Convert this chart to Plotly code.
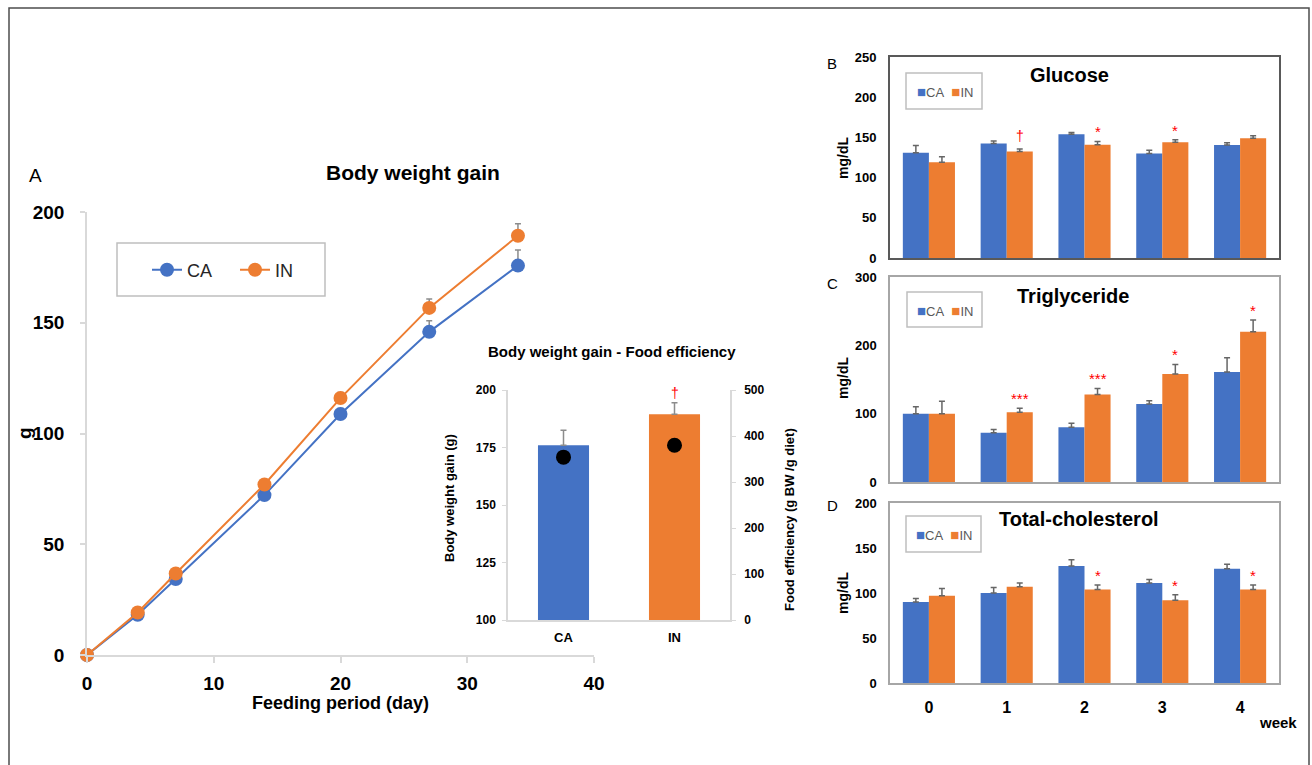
import plotly.graph_objects as go

W, H = 1312, 765


def fx(p):
    return p / W


def fy(p):
    return 1 - p / H


BLUE = "#4472c4"
ORANGE = "#ed7d31"
RED = "#ff0000"
FONT = "Arial, Liberation Sans, sans-serif"

# ---------------- data ----------------
# Panel A: body weight gain over feeding period
days = [0, 4, 7, 14, 20, 27, 34]
bw_ca = [0, 18.2, 34.3, 72.2, 108.8, 145.9, 175.8]
bw_in = [0, 19.2, 36.8, 77.0, 116.0, 156.7, 189.3]
bw_ca_err = [0, 1, 1.5, 2, 2.5, 5, 7]
bw_in_err = [0, 1, 1.5, 2, 2.5, 4, 5.4]

# Inset: body weight gain (bars) and food efficiency (dots)
groups = ["CA", "IN"]
gain = [176, 189.5]
gain_err = [6.5, 5]
food_eff = [354, 380]
gain_sig = ["", "†"]

# Panels B-D
weeks = [0, 1, 2, 3, 4]
week_labels = ["0", "1", "2", "3", "4"]

glu_ca = [131, 142.5, 154, 130, 140.5]
glu_in = [119, 132.5, 141, 144, 149]
glu_ca_err = [9, 3, 2, 4, 3]
glu_in_err = [7, 3, 4, 3, 3]
glu_sig = ["", "†", "*", "*", ""]

tg_ca = [100, 72, 80, 114, 161]
tg_in = [100, 102, 128, 158, 220]
tg_ca_err = [10, 5, 6, 5, 21]
tg_in_err = [18, 6, 9, 14, 17]
tg_sig = ["", "***", "***", "*", "*"]

tc_ca = [90, 100, 130, 111, 127]
tc_in = [97, 107, 104, 92, 104]
tc_ca_err = [4, 6, 7, 4, 5]
tc_in_err = [8, 4, 5, 6, 5]
tc_sig = ["", "", "*", "*", "*"]

BARGAP = 0.33

fig = go.Figure()


def err(arr, color, width=3, thick=1.5):
    return dict(type="data", array=arr, arrayminus=[0] * len(arr), symmetric=False,
                color=color, thickness=thick, width=width, visible=True)


# ---------------- Panel A ----------------
for name, ys, es, col in [("CA", bw_ca, bw_ca_err, BLUE), ("IN", bw_in, bw_in_err, ORANGE)]:
    fig.add_trace(go.Scatter(
        x=days, y=ys, name=name, mode="lines+markers",
        line=dict(color=col, width=2), marker=dict(color=col, size=14),
        error_y=err(es, "#8c8c8c", width=3, thick=1.5),
        xaxis="x", yaxis="y", cliponaxis=False, legend="legend"))

# ---------------- Inset ----------------
fig.add_trace(go.Bar(
    x=groups, y=gain, marker=dict(color=[BLUE, ORANGE], line=dict(width=0)),
    width=0.46, error_y=err(gain_err, "#8c8c8c", width=3, thick=1.5),
    xaxis="x2", yaxis="y2", showlegend=False))
fig.add_trace(go.Scatter(
    x=groups, y=food_eff, mode="markers", marker=dict(color="black", size=15),
    xaxis="x2", yaxis="y3", showlegend=False, cliponaxis=False))

# ---------------- Panels B-D ----------------
panels = [
    dict(xa="x3", ya="y4", ca=glu_ca, inn=glu_in, cae=glu_ca_err, ine=glu_in_err, sig=glu_sig),
    dict(xa="x4", ya="y5", ca=tg_ca, inn=tg_in, cae=tg_ca_err, ine=tg_in_err, sig=tg_sig),
    dict(xa="x5", ya="y6", ca=tc_ca, inn=tc_in, cae=tc_ca_err, ine=tc_in_err, sig=tc_sig),
]
annotations = []
for p in panels:
    fig.add_trace(go.Bar(x=weeks, y=p["ca"], name="CA", marker=dict(color=BLUE, line=dict(width=0)),
                         error_y=err(p["cae"], "#666666"), xaxis=p["xa"], yaxis=p["ya"],
                         showlegend=False))
    fig.add_trace(go.Bar(x=weeks, y=p["inn"], name="IN", marker=dict(color=ORANGE, line=dict(width=0)),
                         error_y=err(p["ine"], "#666666"), xaxis=p["xa"], yaxis=p["ya"],
                         showlegend=False))
    off = (1 - BARGAP) / 4
    for w, v, e, s in zip(weeks, p["inn"], p["ine"], p["sig"]):
        if s:
            annotations.append(dict(
                x=w + off, y=v + e, xref=p["xa"], yref=p["ya"], text=s, showarrow=False,
                yanchor="bottom", yshift=(3 if s == "†" else -1),
                font=dict(family=FONT, size=15 if s != "†" else 14, color=RED)))

for g, v, e, s in zip(groups, gain, gain_err, gain_sig):
    if s:
        annotations.append(dict(x=g, y=v + e, xref="x2", yref="y2", text=s, showarrow=False,
                                yanchor="bottom", yshift=0,
                                font=dict(family=FONT, size=14, color=RED)))


def txt(x, y, s, size, bold=True, angle=0, color="black"):
    return dict(x=fx(x), y=fy(y), xref="paper", yref="paper", text=s, showarrow=False,
                xanchor="center", yanchor="middle", textangle=angle,
                font=dict(family=FONT, size=size, color=color,
                          weight="bold" if bold else "normal"))


annotations += [
    txt(35, 176, "A", 19, bold=False),
    txt(413, 173, "Body weight gain", 21),
    txt(24, 433, "g", 19, angle=-90),
    txt(340, 703, "Feeding period (day)", 18),
    txt(612, 352, "Body weight gain - Food efficiency", 15),
    txt(449, 498, "Body weight gain (g)", 13, angle=-90),
    txt(789, 519, "Food efficiency (g BW /g diet)", 13, angle=-90),
    txt(832, 63, "B", 15, bold=False),
    txt(832, 283, "C", 15, bold=False),
    txt(832, 505, "D", 15, bold=False),
    txt(1069, 75, "Glucose", 20),
    txt(1073, 296, "Triglyceride", 20),
    txt(1079, 519, "Total-cholesterol", 20),
    txt(843, 158, "mg/dL", 14, angle=-90),
    txt(843, 378, "mg/dL", 14, angle=-90),
    txt(843, 593, "mg/dL", 14, angle=-90),
    txt(1278, 722, "week", 15),
]

leg_txt = (f'<span style="color:{BLUE};font-size:15px">■</span>CA\u00a0\u00a0'
           f'<span style="color:{ORANGE};font-size:15px">■</span>IN')
for (cx, cy) in [(945, 91), (945, 310), (944, 534)]:
    annotations.append(txt(cx, cy, leg_txt, 13, bold=False, color="#595959"))

# ---------------- shapes ----------------
def rect(x0, y0, x1, y1, color, width):
    return dict(type="rect", xref="paper", yref="paper", x0=fx(x0), x1=fx(x1),
                y0=fy(y1), y1=fy(y0), line=dict(color=color, width=width),
                fillcolor="rgba(0,0,0,0)", layer="above")


shapes = [
    rect(9, 8, 1309, 790, "#4d4d4d", 1.5),
    rect(117, 243, 325, 296, "#bfbfbf", 1.5),
    rect(906, 73, 982, 109, "#bfbfbf", 1.5),
    rect(907, 292, 982, 327, "#bfbfbf", 1.5),
    rect(906, 516, 981, 552, "#bfbfbf", 1.5),
]

# ---------------- axes ----------------
LG = "#d9d9d9"


def tf(size):
    return dict(family=FONT, size=size, color="black", weight="bold")


base = dict(showgrid=False, zeroline=False, automargin=False)

layout = dict(
    width=W, height=H, margin=dict(l=0, r=0, t=0, b=0, pad=0, autoexpand=False),
    paper_bgcolor="white", plot_bgcolor="white", barmode="group",
    bargap=BARGAP, bargroupgap=0, showlegend=True,
    font=dict(family=FONT),
    xaxis=dict(**base, domain=[fx(87), fx(594)], anchor="y", range=[0, 40],
               tickvals=[0, 10, 20, 30, 40], showline=True, linecolor=LG, linewidth=1.5,
               ticks="outside", ticklen=6, tickcolor=LG, tickwidth=1.5,
               tickfont=tf(19), ticklabelstandoff=4),
    yaxis=dict(**base, domain=[fy(655), fy(212)], anchor="x", range=[0, 200],
               tickvals=[0, 50, 100, 150, 200], showline=True, linecolor=LG, linewidth=1.5,
               ticks="outside", ticklen=5, tickcolor=LG, tickwidth=1.5,
               tickfont=tf(19), ticklabelstandoff=12),
    xaxis2=dict(**base, domain=[fx(508), fx(730)], anchor="y2", type="category",
                showline=True, linecolor=LG, linewidth=1.5, ticks="",
                tickfont=tf(13), ticklabelstandoff=5),
    yaxis2=dict(**base, domain=[fy(620), fy(390)], anchor="x2", range=[100, 200],
                tickvals=[100, 125, 150, 175, 200], showline=True, linecolor=LG,
                linewidth=1.5, ticks="outside", ticklen=4, tickcolor=LG,
                tickfont=tf(12), ticklabelstandoff=4),
    yaxis3=dict(**base, overlaying="y2", side="right", anchor="x2", range=[0, 500],
                tickvals=[0, 100, 200, 300, 400, 500], showline=True, linecolor=LG,
                linewidth=1.5, ticks="outside", ticklen=4, tickcolor=LG,
                tickfont=tf(12), ticklabelstandoff=6),
    legend=dict(x=fx(147), y=fy(270), xanchor="left", yanchor="middle",
                orientation="h", font=dict(family=FONT, size=18, color="#262626"),
                bgcolor="rgba(0,0,0,0)", borderwidth=0, entrywidth=43, itemwidth=30),
    annotations=annotations, shapes=shapes,
)

box_specs = [
    ("xaxis3", "yaxis4", "y4", "x3", 57, 258, [0, 250], [0, 50, 100, 150, 200, 250], "#595959", 2, False),
    ("xaxis4", "yaxis5", "y5", "x4", 277, 482, [0, 300], [0, 100, 200, 300], "#a6a6a6", 1.5, False),
    ("xaxis5", "yaxis6", "y6", "x5", 503, 683, [0, 200], [0, 50, 100, 150, 200], "#a6a6a6", 1.5, True),
]
for xn, yn, ya, xa, top, bot, rng, tv, lc, lw, showx in box_specs:
    layout[xn] = dict(**base, domain=[fx(890), fx(1279)], anchor=ya, range=[-0.5, 4.5],
                      tickvals=weeks, ticktext=week_labels, showticklabels=showx,
                      showline=True, mirror=True, linecolor=lc, linewidth=lw, ticks="",
                      tickfont=tf(16), ticklabelstandoff=9)
    layout[yn] = dict(**base, domain=[fy(bot), fy(top)], anchor=xa, range=rng, tickvals=tv,
                      showline=True, mirror=True, linecolor=lc, linewidth=lw, ticks="",
                      tickfont=tf(13), ticklabelstandoff=9)

fig.update_layout(**layout)
fig.write_html("out.html", config={"displayModeBar": False},
               post_script="document.body.style.margin='0';")
